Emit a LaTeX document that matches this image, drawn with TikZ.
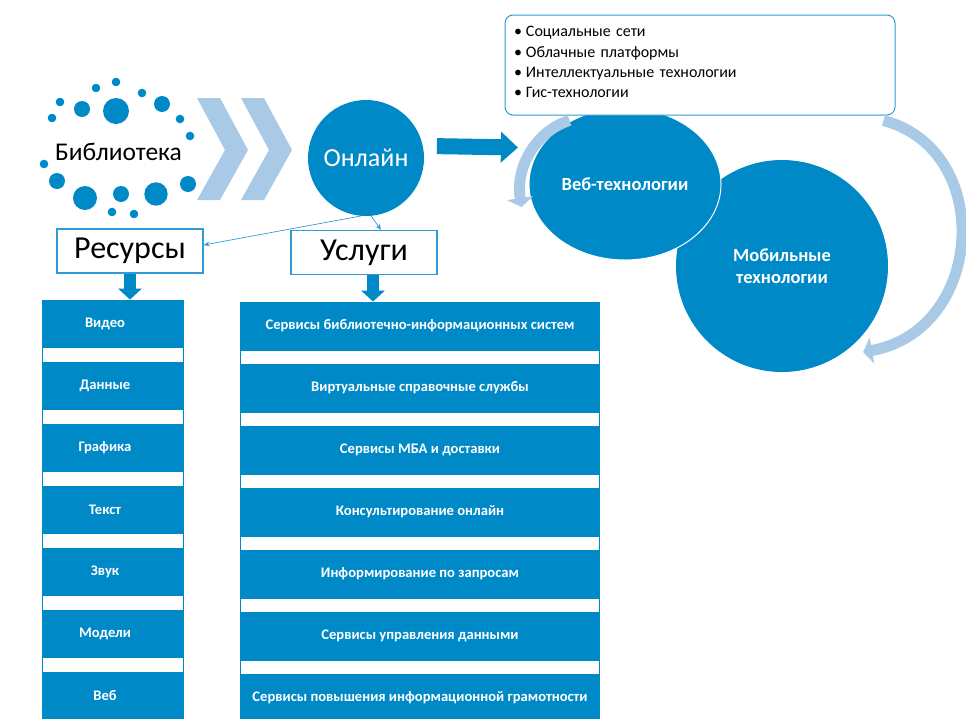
\documentclass[tikz,border=0pt]{standalone}
\usepackage{fontspec}
\setmainfont{Carlito}
\usetikzlibrary{shapes.geometric, arrows.meta}
\definecolor{libblue}{RGB}{0,137,199}
\definecolor{paleblue}{RGB}{168,202,230}
\definecolor{edgeblue}{RGB}{50,155,215}
\tikzstyle{bubble} = [circle, fill=libblue, text=white, inner sep=0pt]
\tikzstyle{heading} = [rectangle, draw=edgeblue, line width=1.2pt, fill=white, minimum width=146pt, minimum height=44pt, font=\fontsize{32}{33}\selectfont]
\tikzstyle{block} = [rectangle, fill=libblue, draw=libblue, line width=0.8pt, minimum height=47pt, inner sep=0pt, text=white, font=\bfseries\fontsize{14.6}{16}\selectfont]
\tikzstyle{lbl} = [text=white, font=\bfseries\fontsize{14.6}{16}\selectfont]
\tikzstyle{column} = [draw=libblue, line width=1.2pt]
\tikzstyle{downarrow} = [libblue, line width=12pt, -{Triangle[width=23pt,length=11pt]}]
\tikzstyle{bigarrow} = [libblue, line width=16pt, -{Triangle[width=30pt,length=17pt]}]
\tikzstyle{cyclearrow} = [paleblue, line width=11pt, -{Triangle[width=26pt,length=9pt]}]
\tikzstyle{thinlink} = [edgeblue, line width=0.7pt, -{Stealth[length=6pt,width=5pt]}]
\tikzstyle{chevron} = [fill=paleblue]
\tikzstyle{dot} = [fill=libblue]

\begin{document}
\begin{tikzpicture}[x=1pt, y=1pt, node distance=62pt]
\useasboundingbox (0,0) rectangle (966,-718);

% library ring
\fill[dot] (116,-82) circle (4.3) (96,-88) circle (4.3) (142,-93) circle (4.3)
   (60,-102) circle (4.3) (52,-118) circle (4.3) (180,-119) circle (4.3)
   (190,-136) circle (4.3) (44,-164) circle (4.3) (112,-212) circle (4.3)
   (134,-214) circle (4.3);
\fill[dot] (82,-109) circle (8) (162,-104) circle (8) (57,-181) circle (8)
   (188,-184) circle (8) (121,-194) circle (8);
\fill[dot] (116,-111) circle (13) (85,-198) circle (12) (156,-194) circle (11.7);
\node (lib) at (118.5,-152) {\fontsize{25.5}{26}\selectfont Библиотека};

\fill[chevron] (197,-98) -- (220,-98) -- (248,-150) -- (220,-200) -- (197,-200) -- (225,-150) -- cycle;
\fill[chevron] (241,-98) -- (264,-98) -- (292,-150) -- (264,-200) -- (241,-200) -- (269,-150) -- cycle;

\node (online) [bubble, minimum size=116pt, font=\fontsize{26}{27}\selectfont] at (366,-158) {Онлайн};

% technologies
\node (mobile) [bubble, minimum size=212pt, align=center, font=\bfseries\fontsize{18.5}{22}\selectfont]
   at (782,-266) {Мобильные\\технологии};
\node (web) [ellipse, fill=libblue, draw=white, line width=1pt, text=white, inner sep=0pt,
   minimum width=192pt, minimum height=152pt, font=\bfseries\fontsize{18.5}{20}\selectfont]
   at (625,-184) {Веб-технологии};
\node (tools) [rectangle, rounded corners=8pt, draw=edgeblue, line width=1pt, fill=white,
   minimum width=390pt, minimum height=100pt, inner xsep=0pt, text width=372pt, align=left,
   font=\fontsize{16}{20.2}\selectfont] at (700,-65)
   {\textbullet\hspace{4pt}Социальные сети\\
    \textbullet\hspace{4pt}Облачные платформы\\
    \textbullet\hspace{4pt}Интеллектуальные технологии\\
    \textbullet\hspace{4pt}Гис-технологии\rule[-6pt]{0pt}{6pt}};

\draw [cyclearrow] ([shift={(65pt,-5pt)}]tools.south west) .. controls (538,-130) and (515,-165) .. ([shift={(-7pt,-23pt)}]web.west);
\draw [cyclearrow] ([shift={(-12pt,-5pt)}]tools.south east) .. controls (995,-150) and (985,-330) .. ([shift={(6pt,-11pt)}]mobile.-45);
\draw [bigarrow, shorten <=14pt, shorten >=22pt] (online.12) -- (web.157);

% resources and services
\node (res) [heading] at (130,-251) {Ресурсы};
\node (usl) [heading] at (364,-252.5) {Услуги};

\node (v1) [block, minimum width=140pt, label={[lbl, xshift=-8pt]center:Видео}] at (113,-323.5) {};
\node (v2) [block, minimum width=140pt, below of=v1, label={[lbl, xshift=-8pt]center:Данные}] {};
\node (v3) [block, minimum width=140pt, below of=v2, label={[lbl, xshift=-8pt]center:Графика}] {};
\node (v4) [block, minimum width=140pt, below of=v3, label={[lbl, xshift=-8pt]center:Текст}] {};
\node (v5) [block, minimum width=140pt, below of=v4, label={[lbl, xshift=-8pt]center:Звук}] {};
\node (v6) [block, minimum width=140pt, below of=v5, label={[lbl, xshift=-8pt]center:Модели}] {};
\node (v7) [block, minimum width=140pt, below of=v6, label={[lbl, xshift=-8pt]center:Веб}] {};

\node (r1) [block, minimum width=358pt, minimum height=48pt] at (420,-326) {Сервисы библиотечно-информационных систем};
\node (r2) [block, minimum width=358pt, minimum height=48pt, below of=r1] {Виртуальные справочные службы};
\node (r3) [block, minimum width=358pt, minimum height=48pt, below of=r2] {Сервисы МБА и доставки};
\node (r4) [block, minimum width=358pt, minimum height=48pt, below of=r3] {Консультирование онлайн};
\node (r5) [block, minimum width=358pt, minimum height=48pt, below of=r4] {Информирование по запросам};
\node (r6) [block, minimum width=358pt, minimum height=48pt, below of=r5] {Сервисы управления данными};
\node (r7) [block, minimum width=358pt, minimum height=48pt, below of=r6] {Сервисы повышения информационной грамотности};

\draw [column] (v1.north west) -- (v7.south west);
\draw [column] (v1.north east) -- (v7.south east);
\draw [column] (r1.north west) -- (r7.south west);
\draw [column] (r1.north east) -- (r7.south east);

\draw [thinlink] (online.265) -- ([yshift=6pt]res.east);
\draw [thinlink] (online.275) -- ([xshift=17pt]usl.north);
\draw [downarrow] (res.south) -- (res.south |- v1.north);
\draw [downarrow] ([xshift=9pt]usl.south) -- ([xshift=9pt]usl.south |- r1.north);

\end{tikzpicture}
\end{document}
